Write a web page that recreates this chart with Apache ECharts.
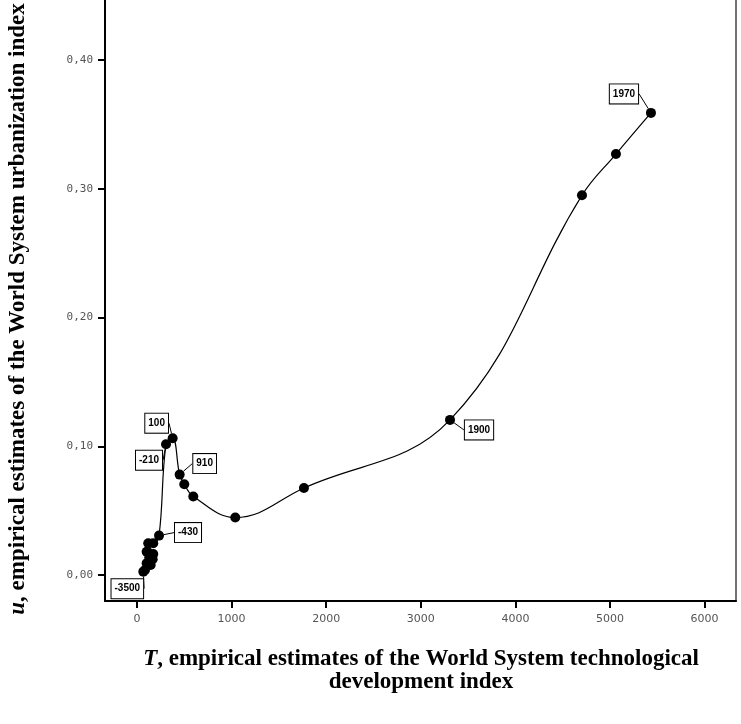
<!DOCTYPE html>
<html>
<head>
<meta charset="utf-8">
<script src="https://cdn.jsdelivr.net/npm/echarts@6/dist/echarts.min.js"></script>
<style>
html,body{margin:0;padding:0;background:#fff;}
#chart{width:741px;height:724px;}
</style>
</head>
<body>
<div id="chart"></div>
<script>
// Data
const techT = [67, 85, 102, 145, 130, 166, 102, 172, 119, 172, 233, 307, 377, 451, 500, 595, 1039, 1765, 3309, 4704, 5063, 5433];
const urbanU = [0.0026, 0.0039, 0.0091, 0.0078, 0.0138, 0.0122, 0.0181, 0.0163, 0.0246, 0.0246, 0.0306, 0.1016, 0.1063, 0.0780, 0.0705, 0.0610, 0.0446, 0.0676, 0.1205, 0.2950, 0.3270, 0.3590];
const yearLabels = ['-3500', '', '', '', '', '', '', '', '', '', '-430', '-210', '100', '910', '', '', '', '', '1900', '', '', '1970'];
const xTicks = [0, 1000, 2000, 3000, 4000, 5000, 6000];
const yTicks = [0, 0.1, 0.2, 0.3, 0.4];

// label displacement (pixels) for labelled points
const labelShift = {
  0: [-16, 17],
  10: [29, -3],
  11: [-17, 16],
  12: [-16, -15],
  13: [25, -11],
  18: [29, 10],
  21: [-27, -19]
};

const points = techT.map((t, i) => [t, urbanU[i]]);
const scatterItems = points.map((p, i) => ({
  value: p,
  label: {show: yearLabels[i] !== ''}
}));

const chart = echarts.init(document.getElementById('chart'));
const titleFont = '"Liberation Serif", "Times New Roman", serif';

chart.setOption({
  animation: false,
  backgroundColor: '#fff',
  grid: {left: 105, right: 5, top: 0, bottom: 123, show: false},
  xAxis: {
    type: 'value', min: -338, max: 6332,
    axisLine: {show: true, onZero: false, lineStyle: {color: '#000', width: 2}},
    axisTick: {show: true, length: 7, lineStyle: {color: '#000', width: 2}, customValues: xTicks},
    axisLabel: {customValues: xTicks, formatter: v => String(v), fontFamily: '"DejaVu Sans", sans-serif', fontSize: 11, color: '#555', margin: 13},
    splitLine: {show: false}
  },
  yAxis: [
    {
      type: 'value', min: -0.0202, max: 0.4467,
      axisLine: {show: true, onZero: false, lineStyle: {color: '#000', width: 2}},
      axisTick: {show: true, length: 7, lineStyle: {color: '#000', width: 2}, customValues: yTicks},
      axisLabel: {customValues: yTicks, margin: 12, formatter: v => v.toFixed(2).replace('.', ','),
        fontFamily: '"DejaVu Sans Mono", monospace', fontSize: 11, color: '#555'},
      splitLine: {show: false}
    },
    {
      type: 'value', position: 'right', min: -0.0202, max: 0.4467,
      axisLine: {show: true, onZero: false, lineStyle: {color: '#444', width: 1.5}},
      axisTick: {show: false}, axisLabel: {show: false}, splitLine: {show: false}
    }
  ],
  graphic: [
    {
      type: 'text', x: 18, y: 309, rotation: Math.PI / 2,
      style: {
        text: '{i|u}, empirical estimates of the World System urbanization index',
        font: 'bold 23px ' + titleFont, fill: '#000', align: 'center', verticalAlign: 'middle',
        rich: {i: {fontStyle: 'italic', fontWeight: 'bold', fontSize: 23, fontFamily: titleFont}}
      }
    },
    {
      type: 'text', x: 421, y: 659,
      style: {
        text: '{i|T}, empirical estimates of the World System technological',
        font: 'bold 23px ' + titleFont, fill: '#000', align: 'center', verticalAlign: 'middle',
        rich: {i: {fontStyle: 'italic', fontWeight: 'bold', fontSize: 23, fontFamily: titleFont}}
      }
    },
    {
      type: 'text', x: 421, y: 682,
      style: {
        text: 'development index',
        font: 'bold 23px ' + titleFont, fill: '#000', align: 'center', verticalAlign: 'middle'
      }
    }
  ],
  series: [
    {
      type: 'line', data: points, smooth: 0.4, symbol: 'none',
      lineStyle: {color: '#000', width: 1.2}, z: 2
    },
    {
      type: 'scatter', data: scatterItems, symbolSize: 10,
      itemStyle: {color: '#000', opacity: 1}, z: 3,
      label: {
        show: true, position: 'inside',
        formatter: p => yearLabels[p.dataIndex],
        fontFamily: '"Liberation Sans", Arial, sans-serif', fontWeight: 'bold', fontSize: 10, color: '#000',
        backgroundColor: '#fff', borderColor: '#000', borderWidth: 1, padding: [5, 3, 4, 3]
      },
      labelLine: {show: true, lineStyle: {color: '#000', width: 1}},
      labelLayout: p => {
        const s = labelShift[p.dataIndex];
        if (!s) return {hideOverlap: false};
        return {dx: s[0], dy: s[1]};
      }
    }
  ]
});
</script>
</body>
</html>
